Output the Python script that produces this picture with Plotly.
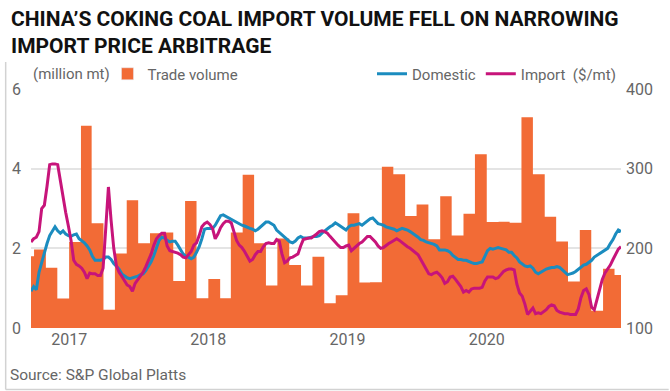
import plotly.graph_objects as go
import pandas as pd

# ---------------- data ----------------
months = pd.date_range("2016-09-01", "2020-12-01", freq="MS")
trade_volume = [1.80, 1.97, 1.51, 0.74,
                2.16, 5.08, 2.63, 0.46, 1.87, 3.21, 2.13, 2.38, 2.40, 1.18, 3.19, 0.75,
                1.23, 0.75, 2.40, 3.85, 2.13, 1.07, 2.25, 1.58, 1.07, 1.79, 0.62, 0.82,
                2.88, 1.14, 1.15, 4.05, 3.86, 2.81, 3.10, 2.23, 3.31, 2.32, 2.87, 4.36,
                2.66, 2.67, 2.64, 5.29, 3.86, 2.79, 2.17, 1.17, 2.46, 0.43, 1.49, 1.33]

weeks = pd.date_range("2016-09-23", periods=222, freq="7D")
domestic = [146, 152, 148, 170, 182, 195, 206, 216, 222, 227,
            222, 219, 222, 218, 216, 215, 217, 218, 212, 210,
            207, 203, 198, 190, 185, 185, 185, 186, 189, 189,
            186, 181, 178, 174, 168, 165, 163, 162, 163, 164,
            165, 167, 168, 172, 177, 183, 191, 200, 210, 214,
            213, 210, 208, 209, 209, 204, 198, 193, 190, 189,
            187, 189, 195, 202, 212, 224, 225, 225, 225, 229,
            236, 241, 242, 240, 238, 237, 235, 233, 231, 229,
            228, 226, 225, 224, 222, 224, 227, 230, 233, 233,
            231, 229, 223, 220, 217, 213, 210, 208, 207, 209,
            213, 215, 213, 213, 213, 214, 215, 215, 216, 219,
            222, 225, 227, 229, 232, 230, 228, 225, 223, 227,
            229, 229, 230, 231, 229, 232, 235, 237, 238, 234,
            231, 230, 229, 227, 226, 225, 224, 222, 224, 225,
            224, 223, 221, 219, 217, 214, 211, 210, 208, 207,
            206, 205, 203, 198, 198, 198, 197, 195, 191, 188,
            186, 186, 185, 185, 183, 182, 181, 181, 182, 183,
            190, 197, 200, 199, 200, 201, 200, 199, 198, 195,
            195, 191, 188, 183, 180, 178, 177, 178, 175, 170,
            168, 170, 173, 174, 175, 176, 176, 177, 176, 173,
            169, 167, 168, 169, 171, 174, 177, 179, 180, 182,
            185, 189, 191, 193, 195, 197, 200, 206, 211, 218,
            223, 221]
import_price = [208, 212, 214, 221, 250, 254, 278, 305, 306, 306,
                305, 285, 261, 245, 228, 210, 185, 180, 178, 175,
                170, 162, 169, 168, 168, 166, 166, 175, 225, 277,
                235, 200, 178, 170, 165, 159, 154, 152, 146, 156,
                161, 165, 170, 177, 185, 193, 204, 212, 216, 219,
                219, 203, 197, 196, 195, 194, 192, 189, 188, 192,
                196, 204, 207, 216, 227, 231, 233, 230, 225, 212,
                218, 226, 231, 234, 234, 232, 220, 210, 204, 201,
                196, 190, 184, 186, 192, 196, 196, 202, 206, 207,
                206, 206, 211, 209, 193, 182, 184, 188, 189, 191,
                193, 203, 211, 212, 213, 213, 215, 218, 221, 222,
                221, 219, 215, 211, 208, 204, 201, 201, 203, 204,
                197, 200, 204, 206, 208, 212, 215, 215, 212, 208,
                203, 200, 201, 204, 206, 208, 210, 212, 210, 207,
                204, 202, 200, 197, 195, 192, 186, 179, 174, 168,
                167, 169, 170, 167, 163, 156, 158, 164, 165, 161,
                157, 152, 145, 147, 145, 149, 150, 150, 150, 151,
                159, 164, 164, 164, 162, 163, 167, 171, 173, 174,
                174, 173, 155, 144, 140, 130, 117, 121, 125, 118,
                119, 118, 120, 123, 127, 129, 128, 122, 120, 119,
                118, 118, 117, 117, 117, 124, 138, 147, 149, 142,
                126, 123, 136, 151, 161, 169, 174, 179, 186, 192,
                199, 202]

year_ticks = ["2017-01-01", "2018-01-01", "2019-01-01", "2020-01-01"]
year_labels = ["2017", "2018", "2019", "2020"]

# ---------------- styling ----------------
ORANGE = "#f26b36"
BLUE = "#1b8cbf"
PINK = "#c7147a"
GREY = "#666666"
FONT = "Roboto, 'Open Sans', sans-serif"

# monthly step area: each month's value held until the next month starts
step_x = list(months) + [months[-1] + pd.offsets.MonthBegin(1)]
step_y = trade_volume + [trade_volume[-1]]

fig = go.Figure()
fig.add_trace(go.Scatter(
    x=step_x, y=step_y, mode="lines", line=dict(width=0, shape="hv"),
    fill="tozeroy", fillcolor=ORANGE, showlegend=False, yaxis="y",
    name="Trade volume"))
# legend entry for the trade volume (square swatch)
fig.add_trace(go.Bar(
    x=[None], y=[None], name="Trade volume", marker=dict(color=ORANGE),
    yaxis="y", legend="legend", showlegend=True))
fig.add_trace(go.Scatter(
    x=weeks, y=domestic, name="Domestic", mode="lines",
    line=dict(color=BLUE, width=3), yaxis="y2", legend="legend2",
    showlegend=True))
fig.add_trace(go.Scatter(
    x=weeks, y=import_price, name="Import  ($/mt)", mode="lines",
    line=dict(color=PINK, width=3), yaxis="y2", legend="legend2",
    showlegend=True))

L, R, T, B = 27, 49, 89, 63
W, H = 670, 391
pw, ph = W - L - R, H - T - B


def px_x(p):
    return (p - L) / pw


def px_y(p):
    return (H - B - p) / ph


fig.update_layout(
    width=W, height=H,
    margin=dict(l=L, r=R, t=T, b=B, pad=0),
    paper_bgcolor="white", plot_bgcolor="white",
    font=dict(family=FONT, color=GREY, size=15),
    showlegend=True,
    xaxis=dict(type="date", range=[weeks[0], weeks[-1]],
               tickvals=year_ticks, ticktext=year_labels,
               showgrid=False, zeroline=False, showline=False, ticks="",
               tickfont=dict(size=16, color=GREY)),
    yaxis=dict(range=[0, 6], tickvals=[0, 2, 4, 6], showgrid=True,
               gridcolor="#e4e4e4", gridwidth=1.5, zeroline=False,
               showline=False, ticks="", ticklabelstandoff=9,
               tickfont=dict(size=16, color=GREY)),
    yaxis2=dict(range=[100, 400], tickvals=[100, 200, 300, 400],
                overlaying="y", side="right", showgrid=False,
                zeroline=False, showline=False, ticks="", ticklabelstandoff=4,
                tickfont=dict(size=16, color=GREY)),
    legend=dict(orientation="h", x=px_x(104), xanchor="left",
                y=px_y(74), yanchor="middle", font=dict(size=15, color=GREY),
                bgcolor="rgba(0,0,0,0)", itemwidth=30),
    legend2=dict(orientation="h", x=1.0, xanchor="right",
                 y=px_y(74), yanchor="middle", font=dict(size=15, color=GREY),
                 bgcolor="rgba(0,0,0,0)", itemwidth=30),
    annotations=[
        dict(text="CHINA’S COKING COAL IMPORT VOLUME FELL ON NARROWING<br>IMPORT PRICE ARBITRAGE",
             xref="paper", yref="paper", x=px_x(5), y=px_y(5),
             xanchor="left", yanchor="top", align="left", showarrow=False,
             font=dict(family="Roboto, sans-serif", size=21,
                       color="#111111", weight="bold")),
        dict(text="(million mt)", xref="paper", yref="paper",
             x=px_x(27), y=px_y(74), xanchor="left", yanchor="middle",
             showarrow=False, font=dict(size=15, color=GREY)),
        dict(text="Source: S&amp;P Global Platts", xref="paper", yref="paper",
             x=px_x(4), y=px_y(375), xanchor="left", yanchor="middle",
             showarrow=False, font=dict(size=15.5, color=GREY)),
    ],
    shapes=[
        dict(type="line", xref="paper", yref="paper",
             x0=px_x(1.5), x1=px_x(1.5), y0=px_y(62), y1=px_y(389.5),
             line=dict(color="#d2d2d2", width=1.5)),
        dict(type="line", xref="paper", yref="paper",
             x0=px_x(1.5), x1=px_x(669), y0=px_y(389.5), y1=px_y(389.5),
             line=dict(color="#d2d2d2", width=1.5)),
    ],
)

fig.write_html("out.html", config={"displayModeBar": False},
               post_script="document.body.style.margin='0';")
